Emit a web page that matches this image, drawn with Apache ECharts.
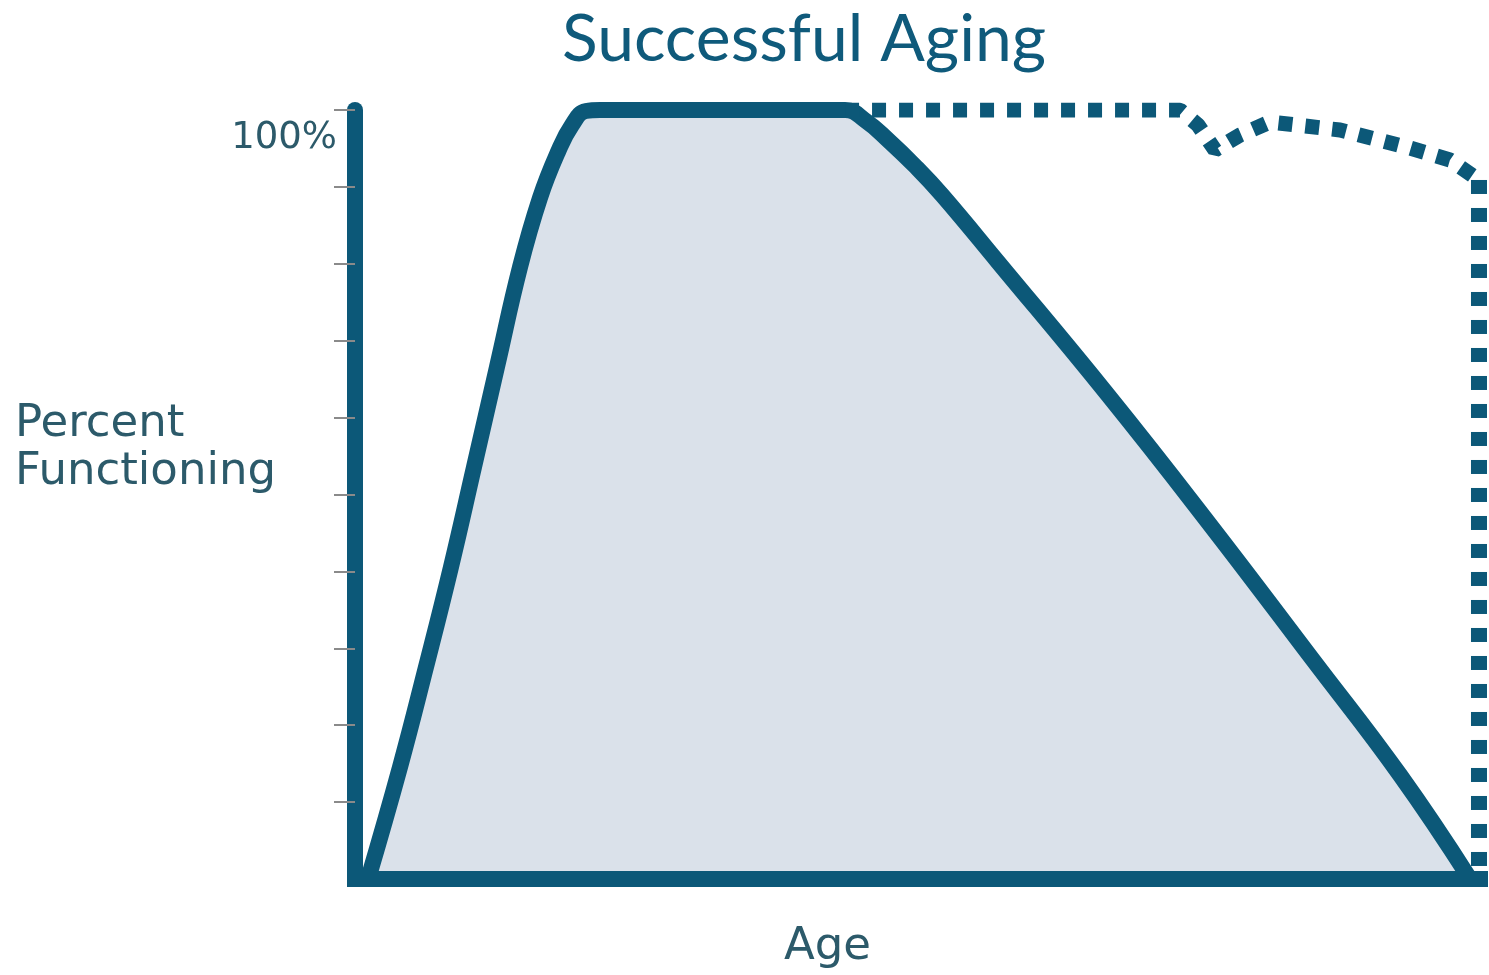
<!DOCTYPE html>
<html>
<head>
<meta charset="utf-8">
<title>Successful Aging</title>
<script src="https://cdn.jsdelivr.net/npm/echarts@6/dist/echarts.min.js"></script>
<style>
  html, body { margin: 0; padding: 0; background: #fff; }
  #chart { width: 1489px; height: 975px; }
</style>
</head>
<body>
<div id="chart"></div>
<script>
// age runs 0..100 along the axis, functioning is in percent
var solidAge = [1.16, 4.0, 6.31, 8.53, 10.58, 12.62, 14.67, 16.44, 18.04, 19.29, 20.53, 21.78,
                43.56, 45.42, 47.38, 49.78, 52.18, 57.16, 66.93, 75.82, 85.16, 92.89, 99.11];
var solidPct = [0, 14.56, 27.57, 40.57, 53.58, 66.58, 79.58, 88.56, 94.54, 98.05, 99.87, 100,
                100, 98.57, 96.1, 92.72, 88.95, 80.23, 62.94, 46.42, 28.48, 13.52, 0];

// dotted "successful" path staying near the top
var dottedAge = [43.56, 73.33, 74.93, 76.44, 78.67, 81.33, 87.56, 93.78, 97.33, 99.91];
var dottedPct = [100, 100, 98.05, 94.8, 96.75, 98.44, 97.4, 95.06, 93.5, 90.9];

// final drop at the end of life
var dropAge = [99.91, 99.91];
var dropPct = [90.9, 0];

var yTicks = [0, 10, 20, 30, 40, 50, 60, 70, 80, 90, 100];

var dark = '#0c5878';
var textColor = '#2c5a6a';

function pairs(xs, ys) {
    var out = [];
    xs.forEach(function (x, i) { out.push([x, ys[i]]); });
    return out;
}

var chartDom = document.getElementById('chart');
var myChart = echarts.init(chartDom);

var option = {
    animation: false,
    title: {
        text: 'Successful Aging',
        left: 557,
        top: 2,
        textStyle: {
            fontFamily: 'Lato',
            fontSize: 66,
            fontWeight: 'normal',
            color: '#0f5a7b'
        }
    },
    grid: {
        left: 355,
        right: 9,
        top: 110,
        bottom: 96
    },
    xAxis: {
        type: 'value',
        min: 0,
        max: 100,
        z: 5,
        axisLine: { show: true, lineStyle: { color: dark, width: 16, cap: 'square' } },
        axisTick: { show: false },
        axisLabel: { show: false },
        splitLine: { show: false }
    },
    yAxis: {
        type: 'value',
        min: yTicks[0],
        max: yTicks[yTicks.length - 1],
        interval: 10,
        z: 5,
        axisLine: { show: true, lineStyle: { color: dark, width: 16 } },
        axisTick: {
            show: true,
            length: 21,
            customValues: yTicks.slice(1),
            lineStyle: { color: '#8a8a8a', width: 2 }
        },
        axisLabel: {
            show: true,
            showMaxLabel: true,
            margin: 18,
            verticalAlign: 'top',
            padding: [10, 0, 0, 0],
            fontFamily: 'DejaVu Sans',
            fontSize: 37,
            color: textColor,
            formatter: function (v) { return v === 100 ? '100%' : ''; }
        },
        splitLine: { show: false }
    },
    graphic: [
        {
            type: 'text',
            left: 15,
            top: 400,
            style: {
                text: 'Percent\nFunctioning',
                font: '45px "DejaVu Sans"',
                lineHeight: 48,
                fill: textColor
            }
        },
        {
            type: 'text',
            left: 784,
            top: 925,
            style: {
                text: 'Age',
                font: '45px "DejaVu Sans"',
                fill: textColor
            }
        }
    ],
    series: [
        {
            name: 'Usual aging',
            type: 'line',
            data: pairs(solidAge, solidPct),
            smooth: 0.45,
            symbol: 'none',
            z: 2,
            lineStyle: { color: dark, width: 16, join: 'round' },
            areaStyle: { color: '#dae1ea', opacity: 1 }
        },
        {
            name: 'Successful aging',
            type: 'line',
            data: pairs(dottedAge, dottedPct),
            symbol: 'none',
            z: 3,
            lineStyle: { color: dark, width: 15, type: [14, 13], cap: 'butt' }
        },
        {
            name: 'Drop',
            type: 'line',
            data: pairs(dropAge, dropPct),
            symbol: 'none',
            z: 3,
            lineStyle: { color: dark, width: 16, type: [14, 14], cap: 'butt' }
        }
    ]
};

myChart.setOption(option);
</script>
</body>
</html>
